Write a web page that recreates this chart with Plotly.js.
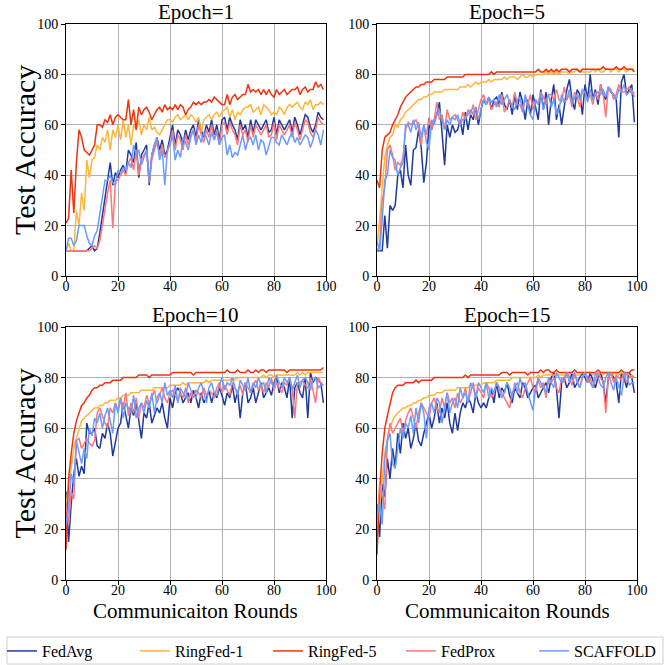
<!DOCTYPE html>
<html>
<head>
<meta charset="utf-8">
<script src="https://cdn.plot.ly/plotly-3.0.1.min.js"></script>
<style>html,body{margin:0;padding:0;background:#fff;}#chart{width:665px;height:665px;}</style>
</head>
<body>
<div id="chart"></div>
<script>
// ---- data ----
const seriesNames = ["FedAvg", "RingFed-1", "RingFed-5", "FedProx", "SCAFFOLD"];
const panelTitles = ["Epoch=1", "Epoch=5", "Epoch=10", "Epoch=15"];
const xTicks = [0, 20, 40, 60, 80, 100];
const yTicks = [0, 20, 40, 60, 80, 100];
const yTitle = "Test Accuracy";
const xTitle = "Communicaiton Rounds";

const e1_fedavg = [10,10,10,10,10,10,10,10,10,11, 12,10,11,17,24,30,37,45,36,41, 39,42,44,41,50,48,45,53,39,48, 50,52,36,48,52,55,50,54,48,50, 55,60,52,58,56,52,58,54,58,60, 55,62,58,55,60,57,62,56,60,54, 62,63,58,63,60,58,54,62,58,60, 55,62,57,62,60,58,60,62,57,58, 63,56,62,60,58,60,62,57,63,60, 56,60,64,63,59,57,60,65,63,62];
const e1_ringfed1 = [10,13,10,10,26,20,33,26,46,39, 46,47,52,50,55,53,58,50,58,55, 60,54,62,55,60,52,60,58,62,56, 60,58,63,58,59,57,56,58,60,62, 62,61,63,64,62,63,64,62,64,63, 61,63,57,62,63,64,62,64,65,63, 65,66,67,63,66,62,65,64,66,67, 67,68,65,66,67,64,68,67,66,64, 65,64,67,66,64,67,68,67,68,69, 67,66,69,68,70,66,68,68,69,68];
const e1_ringfed5 = [21,23,42,25,45,58,55,50,49,48, 50,52,60,60,59,62,61,64,60,63, 64,63,62,62,70,60,66,58,67,64, 66,67,65,62,64,66,67,65,68,66, 67,66,68,66,68,67,64,66,67,69, 68,69,68,69,69,70,69,71,70,69, 68,68,72,68,71,72,70,71,72,72, 76,73,74,73,74,72,74,72,74,72, 71,74,72,73,74,72,73,74,74,75, 72,74,75,73,74,74,77,75,76,74];
const e1_fedprox = [10,10,10,10,10,10,10,10,10,10, 11,12,11,14,20,27,33,38,19,38, 38,40,42,40,45,47,42,50,40,46, 48,50,37,46,50,53,48,52,47,49, 53,58,50,56,54,50,56,52,56,58, 53,60,56,53,58,55,60,54,58,52, 60,61,56,61,58,56,52,60,56,58, 53,60,55,60,58,56,58,60,55,56, 61,54,60,58,56,58,60,55,61,58, 54,58,62,61,57,55,58,63,61,60];
const e1_scaffold = [10,15,15,12,14,20,20,20,16,13, 12,16,18,25,30,38,38,40,37,36, 42,41,43,42,45,43,52,48,50,44, 47,50,38,48,52,55,46,50,36,50, 52,56,46,50,47,55,53,50,55,58, 52,56,53,57,55,52,57,54,57,52, 55,56,48,52,47,49,48,52,56,50, 54,55,52,56,50,54,53,48,52,55, 55,53,52,56,54,52,55,57,53,55, 52,54,56,55,51,54,58,56,52,58];

const e5_fedavg = [10,10,10,24,11,28,26,28,40,42, 35,52,40,36,50,51,58,51,37,45, 60,58,62,64,69,57,44,60,55,60, 57,58,62,56,65,58,64,62,67,60, 66,70,68,71,66,70,71,68,73,68, 66,70,64,72,66,73,69,62,70,64, 72,67,62,74,66,73,60,70,76,62, 68,60,68,74,78,70,66,74,72,64, 76,70,80,70,74,68,76,72,70,75, 73,72,70,55,77,80,72,74,76,61];
const e5_ringfed1 = [12,22,35,47,52,55,56,60,59,62, 63,65,66,67,68,69,70,70,71,71, 72,72,73,73,73,73,74,74,74,74, 74,74,75,75,75,76,75,76,77,76, 77,77,77,78,77,78,78,78,78,79, 78,79,79,79,78,79,80,79,79,80, 79,80,80,80,80,81,80,81,80,81, 80,81,81,81,80,81,81,82,81,81, 81,81,81,82,81,82,81,81,82,82, 81,82,82,81,82,82,81,82,82,82];
const e5_ringfed5 = [38,35,50,55,56,57,60,62,64,67, 69,71,72,73,74,75,75,76,76,77, 77,77,78,78,78,78,78,79,79,79, 79,79,79,79,80,80,80,80,80,80, 80,80,80,80,81,80,81,81,81,81, 81,81,81,81,81,81,81,81,81,81, 81,81,82,81,81,82,81,82,81,82, 81,82,82,82,81,82,82,82,81,82, 82,82,82,82,82,82,82,83,82,82, 82,82,83,82,82,83,82,82,82,81];
const e5_fedprox = [10,12,30,35,50,52,48,42,45,44, 47,58,61,60,61,62,59,52,60,56, 63,58,62,69,62,64,58,66,62,63, 64,62,60,65,62,66,64,68,62,66, 70,72,68,70,66,68,69,67,72,65, 67,70,67,73,68,68,65,70,68,72, 66,70,68,73,71,68,72,72,70,74, 70,69,75,70,72,67,73,71,67,74, 73,70,72,68,73,70,76,72,63,75, 74,70,72,76,73,73,74,75,72,73];
const e5_scaffold = [14,10,22,38,40,50,47,46,40,43, 45,60,60,57,62,58,61,55,60,53, 50,62,60,64,66,62,58,62,60,63, 62,64,60,62,63,64,66,64,67,62, 66,70,68,71,69,70,67,72,68,70, 72,69,68,66,70,71,65,72,68,64, 62,70,68,73,66,70,72,67,70,64, 66,72,69,70,74,68,71,72,70,74, 73,69,74,70,72,73,72,74,71,75, 73,72,70,74,73,76,72,73,74,71];

const e10_fedavg = [35,15,30,42,48,41,45,42,62,58, 58,60,53,52,58,56,62,58,49,55, 60,62,70,65,60,68,65,70,62,56, 66,64,70,62,65,68,66,70,64,60, 72,68,74,76,74,70,72,74,70,75, 72,68,74,70,72,75,70,74,72,76, 73,69,74,72,77,70,75,64,74,78, 70,72,76,70,74,78,72,74,76,73, 78,80,74,78,76,72,80,64,76,78, 74,72,80,64,82,78,80,79,78,70];
const e10_ringfed1 = [30,38,45,52,56,60,63,64,65,66, 67,68,68,69,69,70,70,71,71,71, 72,72,73,73,73,74,74,74,74,75, 75,75,75,75,76,76,76,76,76,76, 77,77,77,77,77,78,77,78,78,78, 78,78,78,78,79,78,79,79,79,79, 79,79,79,79,80,79,80,80,80,80, 80,80,80,80,80,80,81,80,81,81, 80,81,81,81,81,81,81,81,81,82, 81,82,81,82,82,82,82,82,82,82];
const e10_ringfed5 = [12,40,50,58,63,66,69,70,72,73, 75,76,76,77,77,78,78,78,79,79, 79,79,80,80,80,80,80,80,81,81, 81,81,80,81,81,81,81,81,81,81, 81,82,82,82,82,82,82,82,82,81, 82,82,82,82,82,82,82,82,82,82, 82,82,83,82,82,82,83,82,82,82, 83,82,82,83,82,83,83,82,83,83, 83,83,83,83,83,82,83,83,83,83, 83,83,83,83,83,83,83,83,83,84];
const e10_fedprox = [30,22,35,32,55,56,52,54,56,54, 53,55,66,68,65,62,60,68,66,70, 67,72,68,74,65,70,66,72,64,70, 68,73,70,72,75,70,73,76,72,70, 74,75,73,71,74,72,76,70,74,72, 75,74,72,76,73,75,74,72,76,78, 74,77,75,73,78,76,74,77,73,78, 76,74,77,79,75,77,74,78,76,80, 75,78,76,74,78,77,80,76,64,78, 78,79,77,76,80,75,70,80,78,77];
const e10_scaffold = [22,28,42,38,55,50,46,52,48,60, 57,64,62,66,60,65,68,63,58,70, 66,72,64,70,68,66,73,64,68,70, 66,71,68,74,66,72,74,70,78,73, 75,72,77,70,76,74,72,78,75,73, 72,76,78,74,70,76,78,74,73,77, 80,75,78,77,80,76,73,79,77,75, 80,74,78,76,80,77,78,74,80,78, 76,81,78,76,80,78,80,75,78,81, 76,79,80,78,75,79,80,76,77,77];

const e15_fedavg = [30,17,38,33,48,40,52,45,58,50, 62,56,60,52,56,62,55,53,58,62, 66,60,64,70,62,68,64,70,62,58, 66,59,66,70,68,72,70,66,74,70, 68,70,68,72,75,70,78,72,76,74, 78,73,70,76,74,72,78,76,72,74, 76,77,72,74,76,78,74,80,82,76, 64,78,80,76,78,82,76,78,80,82, 80,78,82,79,76,80,82,78,70,80, 82,80,78,70,82,80,76,82,80,74];
const e15_ringfed1 = [18,30,40,50,56,60,63,65,66,67, 68,68,69,69,70,70,71,71,72,72, 73,73,73,74,74,74,75,75,75,75, 75,76,76,76,76,76,77,77,77,77, 77,78,78,78,78,78,79,79,79,79, 79,79,80,80,80,80,80,80,80,80, 80,80,81,80,81,81,81,81,81,81, 81,81,81,81,81,82,81,81,81,82, 81,82,82,81,82,81,82,81,82,81, 82,81,82,81,82,81,82,81,80,80];
const e15_ringfed5 = [10,35,50,60,65,70,74,76,77,77, 77,78,78,78,78,79,78,79,79,79, 79,79,80,80,80,80,80,80,80,80, 80,80,80,80,81,80,81,81,81,81, 81,81,81,81,81,81,81,81,82,82, 82,81,82,82,82,82,82,82,81,82, 82,82,82,83,82,83,83,82,82,83, 82,82,82,82,82,82,83,82,82,82, 82,82,82,82,82,83,82,82,82,82, 82,82,82,82,83,82,82,82,83,83];
const e15_fedprox = [22,38,33,28,55,62,58,60,62,64, 58,63,66,68,64,60,66,70,68,66, 64,70,72,68,66,72,68,74,70,72, 68,74,70,72,76,70,74,78,72,76, 74,72,78,76,72,74,78,76,74,72, 70,68,74,76,78,74,72,76,78,80, 76,74,79,76,78,72,80,78,80,76, 74,80,78,82,80,77,81,79,76,80, 82,78,80,76,79,82,80,78,66,80, 82,78,81,80,79,82,78,80,81,80];
const e15_scaffold = [25,30,22,48,55,58,46,44,52,60, 56,62,60,65,58,68,62,70,66,56, 68,70,66,72,70,62,68,74,66,70, 72,68,76,72,74,70,78,76,72,78, 76,74,78,72,76,74,78,76,72,74, 78,76,72,78,74,80,76,78,74,70, 67,76,80,78,76,74,80,78,76,82, 80,78,80,82,78,80,82,78,76,80, 82,80,78,76,82,80,77,76,80,82, 78,75,80,76,73,80,82,77,78,78];

const rounds = e1_fedavg.map((_, i) => i);

const panels = [
  [e1_fedavg, e1_ringfed1, e1_ringfed5, e1_fedprox, e1_scaffold],
  [e5_fedavg, e5_ringfed1, e5_ringfed5, e5_fedprox, e5_scaffold],
  [e10_fedavg, e10_ringfed1, e10_ringfed5, e10_fedprox, e10_scaffold],
  [e15_fedavg, e15_ringfed1, e15_ringfed5, e15_fedprox, e15_scaffold]
];

// ---- style ----
const colors = ["#1f3a9c", "#fdb53a", "#f0320e", "#ff7676", "#6a9bff"];
const FONT = "'Liberation Serif', 'Times New Roman', serif";
const W = 665, H = 665;

const traces = [];
panels.forEach((p, pi) => {
  const ax = pi === 0 ? "" : String(pi + 1);
  p.forEach((vals, si) => {
    traces.push({
      x: rounds, y: vals, type: "scatter", mode: "lines",
      name: seriesNames[si],
      legendgroup: seriesNames[si],
      showlegend: pi === 0,
      line: { color: colors[si], width: 1.5 },
      xaxis: "x" + ax, yaxis: "y" + ax,
      hoverinfo: "skip"
    });
  });
});

// pixel boxes [left,right,top,bottom]
const boxes = [[66, 326, 24, 276], [377, 637, 24, 276], [66, 326, 327, 580], [377, 637, 327, 580]];

const layout = {
  width: W, height: H,
  margin: { l: 0, r: 0, t: 0, b: 0, autoexpand: false },
  paper_bgcolor: "#fff", plot_bgcolor: "#fff",
  font: { family: FONT, color: "#000", size: 14 },
  showlegend: true,
  legend: {
    orientation: "h", x: 2 / W, xanchor: "left", y: 1 - 651 / H, yanchor: "middle",
    bgcolor: "rgba(0,0,0,0)", borderwidth: 0,
    font: { family: FONT, size: 16, color: "#000" },
    entrywidth: 88, entrywidthmode: "pixels", itemwidth: 30, traceorder: "normal"
  },
  shapes: [{
    type: "rect", xref: "paper", yref: "paper",
    x0: 7 / W, x1: 663 / W, y0: 1 - 664 / H, y1: 1 - 637 / H,
    line: { color: "#d0d0d0", width: 1 }, fillcolor: "rgba(0,0,0,0)", layer: "below"
  }],
  annotations: []
};

boxes.forEach((b, i) => {
  const ax = i === 0 ? "" : String(i + 1);
  const common = {
    range: [0, 100],
    showgrid: true, gridcolor: "#b0b0b0", gridwidth: 1, zeroline: false,
    showline: true, linecolor: "#000", linewidth: 1, mirror: true,
    ticks: "outside", ticklen: 4, tickcolor: "#000", automargin: false,
    tickfont: { family: FONT, size: 14, color: "#000" }
  };
  layout["xaxis" + ax] = Object.assign({}, common, {
    domain: [b[0] / W, b[1] / W], anchor: "y" + ax,
    tickvals: xTicks, ticktext: xTicks.map(String),
    ticklabelstandoff: -7
  });
  layout["yaxis" + ax] = Object.assign({}, common, {
    domain: [1 - b[3] / H, 1 - b[2] / H], anchor: "x" + ax,
    tickvals: yTicks, ticktext: yTicks.map(String)
  });
  // panel title
  layout.annotations.push({
    text: panelTitles[i], xref: "paper", yref: "paper",
    x: (b[0] + b[1]) / 2 / W, y: 1 - (b[2] - 12) / H,
    xanchor: "center", yanchor: "middle", showarrow: false,
    font: { family: FONT, size: 21, color: "#000" }
  });
  // y axis title (left column)
  if (i === 0 || i === 2) {
    layout.annotations.push({
      text: yTitle, xref: "paper", yref: "paper", textangle: -90,
      x: 24 / W, y: 1 - (b[2] + b[3]) / 2 / H,
      xanchor: "center", yanchor: "middle", showarrow: false,
      font: { family: FONT, size: 30, color: "#000" }
    });
  }
  // x axis title (bottom row)
  if (i >= 2) {
    layout.annotations.push({
      text: xTitle, xref: "paper", yref: "paper",
      x: (b[0] + b[1]) / 2 / W, y: 1 - 611 / H,
      xanchor: "center", yanchor: "middle", showarrow: false, borderpad: 0,
      font: { family: FONT, size: 21, color: "#000" }
    });
  }
});

Plotly.newPlot("chart", traces, layout, { staticPlot: true, displayModeBar: false });
</script>
</body>
</html>
